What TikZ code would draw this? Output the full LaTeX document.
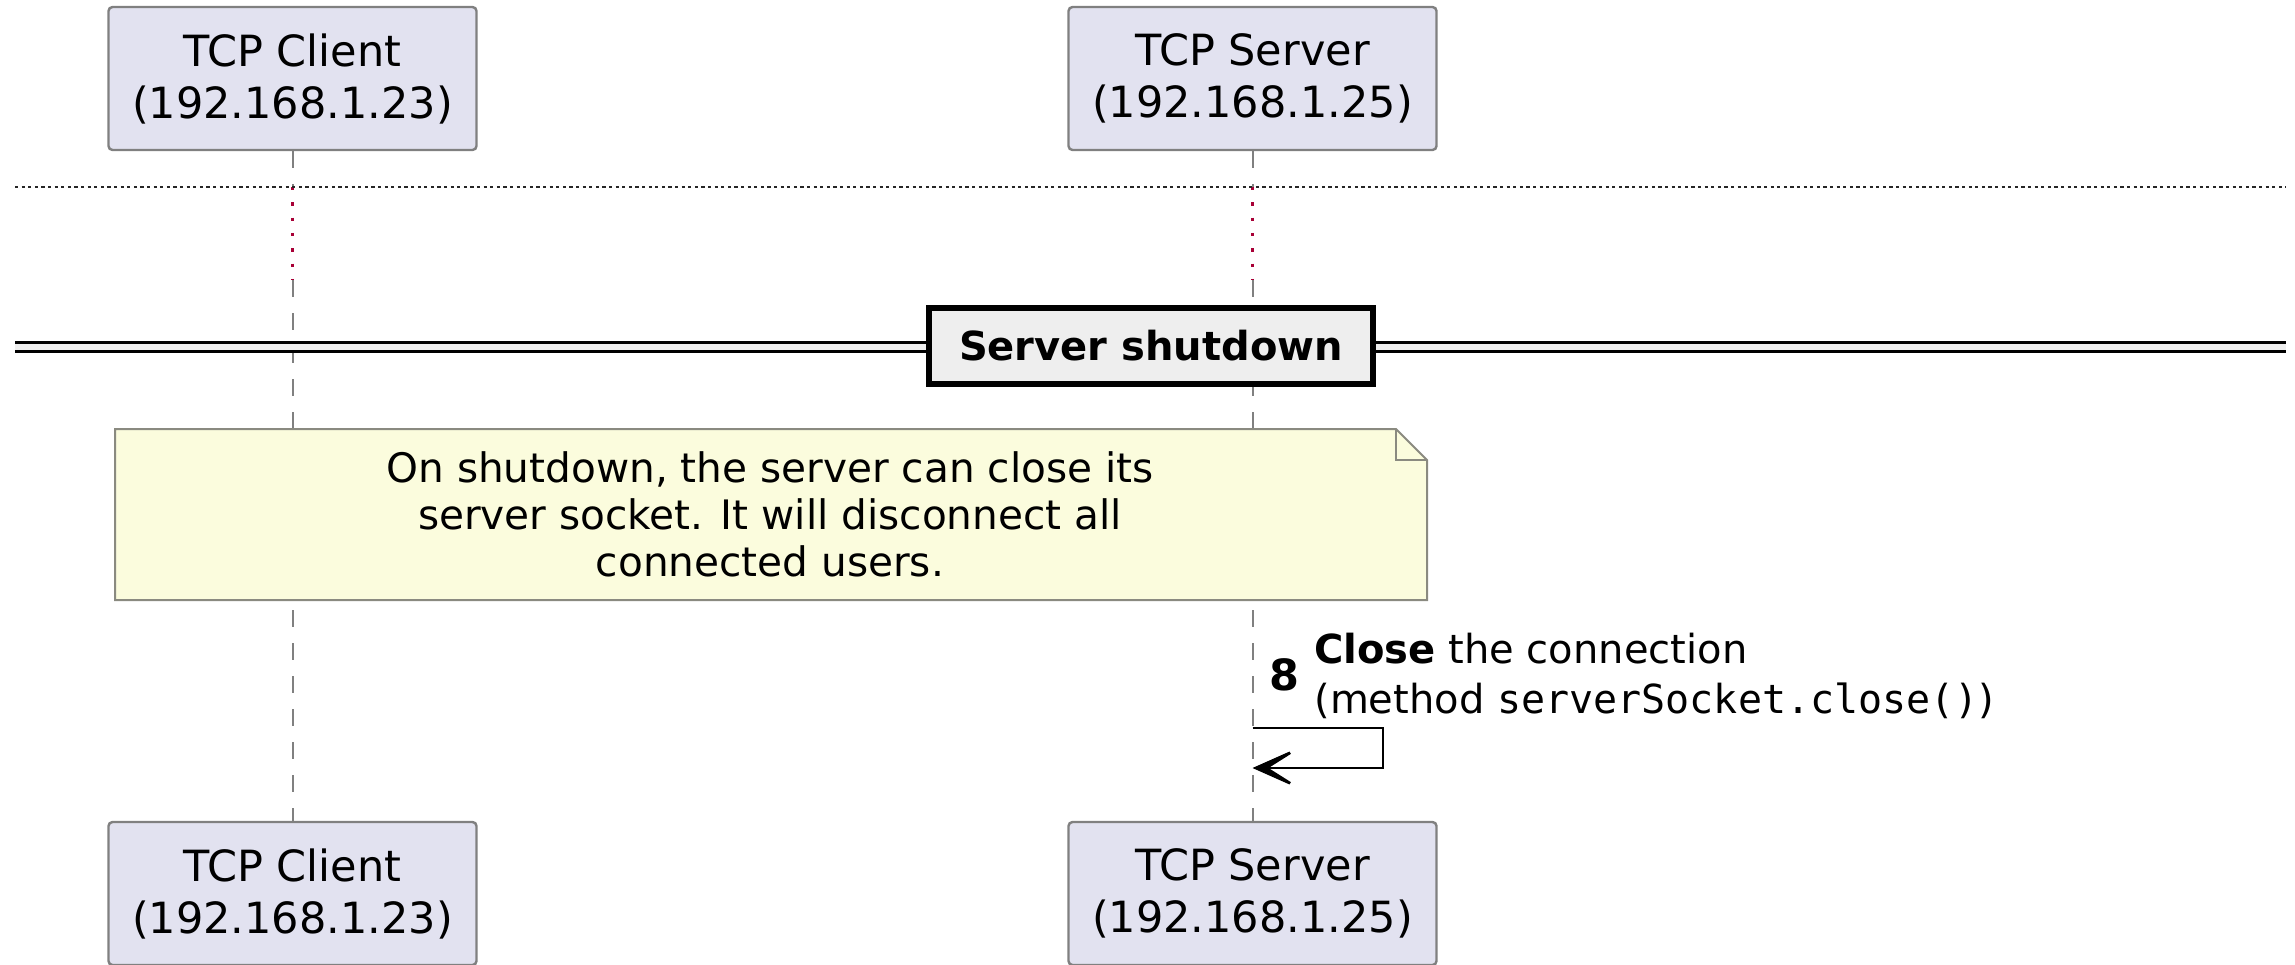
\documentclass[tikz,border=0pt]{standalone}
\usepackage{fontspec}
\setmainfont{DejaVu Sans}
\setmonofont{DejaVu Sans Mono}
\usetikzlibrary{arrows.meta}
\definecolor{partfill}{HTML}{E2E2F0}
\definecolor{partline}{HTML}{808080}
\definecolor{notefill}{HTML}{FBFCDD}
\definecolor{noteline}{HTML}{8A8A80}
\definecolor{sepfill}{HTML}{EEEEEE}
\definecolor{delayred}{HTML}{A80036}
\definecolor{lifegray}{HTML}{808080}
\begin{document}
\begin{tikzpicture}[x=0.5pt,y=-0.5pt,
  participant/.style={draw=partline, line width=1.2pt, fill=partfill,
    rounded corners=2pt, minimum width=184pt, minimum height=71.5pt,
    inner sep=0pt, align=center, font=\fontsize{21.5}{26}\selectfont},
  lifeline/.style={draw=lifegray, line width=1pt, dash pattern=on 8.25pt off 8.25pt},
  delayline/.style={draw=delayred, line width=1.2pt, dash pattern=on 1.7pt off 5.95pt},
  divider/.style={draw=black!85, line width=1pt, dash pattern=on 1.6pt off 1.7pt},
  sepline/.style={draw=black, line width=1.65pt},
  sepbox/.style={draw=black, line width=3.2pt, fill=sepfill, minimum width=222pt,
    minimum height=38pt, inner sep=0pt, font=\bfseries\fontsize{20}{24}\selectfont},
  notebody/.style={draw=noteline, line width=1pt, fill=notefill},
  notetext/.style={inner sep=0pt, align=center, font=\fontsize{20.3}{23.5}\selectfont},
  msg/.style={draw=black, line width=1.35pt,
    -{Stealth[length=27pt,width=24pt,inset=19pt]}},
]
\useasboundingbox (0,0) rectangle (2295,964);

% participants, top and bottom
\node[participant] (cli)  at (292.5,78.5)  {TCP Client\\(192.168.1.23)};
\node[participant] (srv)  at (1252.5,78.5) {TCP Server\\(192.168.1.25)};
\node[participant] (cli2) at (292.5,893.5)  {TCP Client\\(192.168.1.23)};
\node[participant] (srv2) at (1252.5,893.5) {TCP Server\\(192.168.1.25)};

% lifelines with the delay section
\coordinate (cliA) at (292.5,187);
\coordinate (cliB) at (292.5,280);
\coordinate (srvA) at (1252.5,187);
\coordinate (srvB) at (1252.5,280);
\draw[lifeline] (cli.south) -- (cliA);
\draw[delayline] (cliA) -- (cliB);
\draw[lifeline] (cliB) -- (cli2.north);
\draw[lifeline] (srv.south) -- (srvA);
\draw[delayline] (srvA) -- (srvB);
\draw[lifeline] (srvB) -- (srv2.north);

% delay divider
\coordinate (divL) at (15,187);
\coordinate (divR) at (2286,187);
\draw[divider] (divL) -- (divR);

% separator
\coordinate (sepL) at (15,342.5);
\coordinate (sepR) at (2286,351.5);
\fill[sepfill] (sepL) rectangle (sepR);
\draw[sepline] (sepL) -- (sepL -| sepR);
\draw[sepline] (sepL |- sepR) -- (sepR);
\node[sepbox] (sep) at (1151,346) {Server shutdown\hspace{8pt}};

% note
\draw[notebody] (115,429) -- (1396,429) -- (1427,460) -- (1427,600) -- (115,600) -- cycle;
\draw[notebody, fill=none] (1396,429) -- (1396,460) -- (1427,460);
\node[notetext] (note) at (770,514)
  {On shutdown, the server can close its\\server socket. It will disconnect all\\connected users.};

% self message
\coordinate (selfout) at (1252.5,728);
\coordinate (selfin) at (1252.5,768);
\draw[msg] (selfout) -- ++(130.5,0) |- (selfin);
\node[anchor=base east, inner sep=0pt, font=\bfseries\fontsize{21.5}{24}\selectfont] (num) at (1300,690) {8};
\node[anchor=north west, align=left, inner sep=0pt, font=\fontsize{20}{25}\selectfont] (label) at (1314,633)
  {\textbf{Close} the connection\\(method \texttt{serverSocket.close()})};
\end{tikzpicture}
\end{document}
